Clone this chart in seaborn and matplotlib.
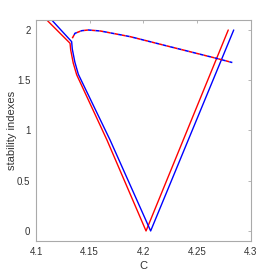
import numpy as np
import pandas as pd
import matplotlib
matplotlib.use("Agg")
import matplotlib.pyplot as plt
import seaborn as sns

# stability index branches
red_c = [4.1100, 4.1317, 4.1323, 4.1347, 4.1379, 4.1661, 4.2025, 4.2791]
red_s = [2.100, 1.868, 1.802, 1.670, 1.554, 0.905, 0.000, 2.000]

blue_c = [4.1146, 4.1332, 4.1338, 4.1362, 4.1394, 4.1690, 4.2068, 4.2842]
blue_s = [2.100, 1.884, 1.810, 1.680, 1.560, 0.905, 0.000, 2.000]

dash_c = [4.1338, 4.1363, 4.1426, 4.1487, 4.1600, 4.1876, 4.2277, 4.2677, 4.2829]
dash_s = [1.918, 1.967, 1.993, 2.000, 1.990, 1.934, 1.826, 1.719, 1.676]

xticks = [4.1, 4.15, 4.2, 4.25, 4.3]
xticklabels = ["4.1", "4.15", "4.2", "4.25", "4.3"]
yticks = [0, 0.5, 1, 1.5, 2]
yticklabels = ["0", "0.5", "1", "1.5", "2"]

sns.set_style("white")
plt.rcParams["font.family"] = ["Liberation Sans", "DejaVu Sans"]

fig = plt.figure(figsize=(2.77, 2.77), dpi=100)
ax = fig.add_axes([0.130, 0.130, 0.775, 0.798])

red = pd.DataFrame({"C": red_c, "s": red_s})
blue = pd.DataFrame({"C": blue_c, "s": blue_s})
dash = pd.DataFrame({"C": dash_c, "s": dash_s})

sns.lineplot(data=red, x="C", y="s", sort=False, estimator=None, color="#ff0000", lw=1.0, ax=ax)
sns.lineplot(data=blue, x="C", y="s", sort=False, estimator=None, color="#0000ff", lw=1.0, ax=ax)
l1 = sns.lineplot(data=dash, x="C", y="s", sort=False, estimator=None, color="#ff0000", lw=1.1, ax=ax).lines[-1]
l1.set_linestyle((0, (2.5, 2.5)))
l2 = sns.lineplot(data=dash, x="C", y="s", sort=False, estimator=None, color="#0000ff", lw=1.1, ax=ax).lines[-1]
l2.set_linestyle((2.5, (2.5, 2.5)))

ax.set_xlim(4.1, 4.3)
ax.set_ylim(-0.1, 2.1)
ax.set_xticks(xticks)
ax.set_xticklabels(xticklabels)
ax.set_yticks(yticks)
ax.set_yticklabels(yticklabels)
ax.tick_params(direction="in", length=2.5, width=0.6, colors="#aaaaaa", labelcolor="#333333",
               labelsize=7, top=True, right=True, pad=4)
for sp in ax.spines.values():
    sp.set_color("#aaaaaa")
    sp.set_linewidth(0.8)
ax.set_xlabel("C", fontsize=8, color="#333333", labelpad=3)
ax.set_ylabel("stability indexes", fontsize=8, color="#333333")
ax.yaxis.set_label_coords(-0.088, 0.5)

fig.savefig("out.png", dpi=100)
